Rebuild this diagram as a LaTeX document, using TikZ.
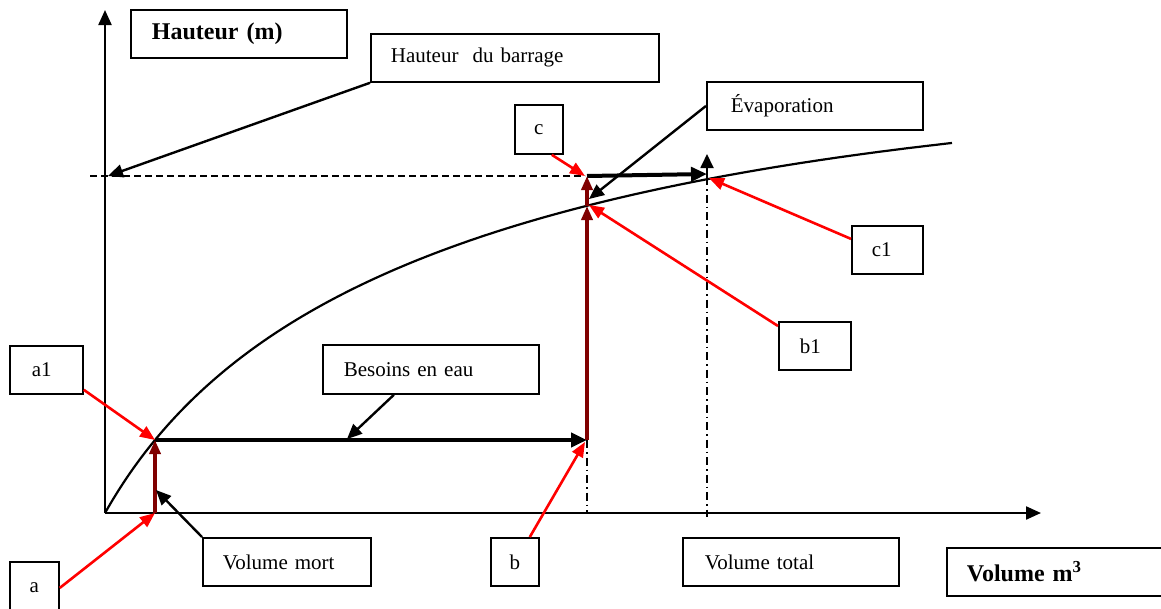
\documentclass[tikz,border=0pt]{standalone}
\usepackage{fontspec}
\setmainfont{Liberation Serif}
\usetikzlibrary{arrows.meta}
\definecolor{dred}{HTML}{800000}
\tikzset{
  lbl/.style={draw=black, line width=1.8pt, rectangle, anchor=north west, inner ysep=0pt, align=left, font=\fontsize{21}{25}\selectfont},
  blbl/.style={lbl, font=\fontsize{24}{28}\selectfont\bfseries},
  axisline/.style={line width=2.2pt, -{Triangle[length=15pt,width=13pt]}},
  blk/.style={line width=2.4pt, black, -{Triangle[length=15pt,width=13pt]}},
  redarr/.style={line width=2.6pt, red, -{Triangle[length=15pt,width=12pt]}},
  dredarr/.style={line width=4pt, dred, -{Triangle[length=14pt,width=11pt]}},
  thickarr/.style={line width=4pt, black, -{Triangle[length=16pt,width=14pt]}},
  dashdot/.style={line width=1.6pt, dash pattern=on 8pt off 4pt on 1.5pt off 4pt},
  curve/.style={line width=2.2pt}
}
\begin{document}
\begin{tikzpicture}[x=1pt,y=-1pt]
\useasboundingbox[fill=white] (0,0) rectangle (1161,608);
% key points
\coordinate (O) at (105,513);
\coordinate (Ytop) at (105,10);
\coordinate (Xend) at (1041,513);
\coordinate (Dstart) at (90,176);
\coordinate (Yh) at (108,176);
\coordinate (pA) at (155,513);
\coordinate (pA1) at (155,440);
\coordinate (pB) at (587,440);
\coordinate (pB1) at (587,206);
\coordinate (pC) at (587,176);
\coordinate (pC1) at (707,174);
\coordinate (pTop) at (707,154);
\coordinate (vC1) at (707,177);
\coordinate (vC1b) at (707,517);
\coordinate (vBb) at (587,513);
\coordinate (tMort) at (156,490);
\coordinate (tBes) at (347,439);
\coordinate (tB) at (585,442);
\coordinate (tB1) at (589,205);
\coordinate (tC1) at (709,178);
\coordinate (tEv) at (589,199);
\coordinate (tC) at (585,176);

% axes
\draw[axisline] (O) -- (Ytop);
\draw[axisline] (O) -- (Xend);
% curve
\draw[curve] plot[domain=105:952, samples=150, smooth] (\x, {513 - 227.3*ln(1+(\x-105)/120) + 0.1231*(\x-105)});
% dashed and dash-dot lines
\draw[line width=1.6pt, dash pattern=on 7pt off 4pt] (Dstart) -- (tC);
\draw[dashdot] (pB) -- (vBb);
\draw[dashdot] (vC1) -- (vC1b);

% boxes
\node[blbl, text width=174pt, inner xsep=21pt, minimum height=48pt] (hm) at (130,9) {Hauteur (m)};
\node[lbl, text width=248pt, inner xsep=20pt, minimum height=48pt] (hb) at (370,33) {Hauteur~~du barrage};
\node[lbl, text width=48pt, inner xsep=0pt, align=center, minimum height=49pt] (c) at (514,104) {c};
\node[lbl, text width=168pt, inner xsep=24pt, minimum height=48pt] (ev) at (706,81) {Évaporation};
\node[lbl, text width=31pt, inner xsep=20pt, minimum height=48pt] (c1) at (851,225) {c1};
\node[lbl, text width=30pt, inner xsep=21pt, minimum height=48pt] (b1) at (778,321) {b1};
\node[lbl, text width=29pt, inner xsep=22pt, minimum height=48pt] (a1) at (9,345) {a1};
\node[lbl, text width=49pt, inner xsep=0pt, align=center, minimum height=52pt] (a) at (9,561) {a};
\node[lbl, text width=48pt, inner xsep=0pt, align=center, minimum height=48pt] (b) at (490,537) {b};
\node[lbl, text width=128pt, inner xsep=20pt, minimum height=48pt] (vm) at (202,537) {Volume mort};
\node[lbl, text width=174pt, inner xsep=21pt, minimum height=49pt] (be) at (322,344) {Besoins en eau};
\node[lbl, text width=172pt, inner xsep=22pt, minimum height=48pt] (vt) at (682,537) {Volume total};
\node[blbl, text width=184pt, inner xsep=20pt, minimum height=48pt] (vm3) at (946,547) {Volume m\textsuperscript{3}};

% connectors
\draw[blk] (hb.south west) -- (Yh);
\draw[redarr] ([xshift=-12pt]c.south east) -- (tC);
\draw[thickarr] (pA1) -- (pB);
\draw[thickarr] (pC) -- (pC1);
\draw[line width=1.8pt, -{Triangle[length=14pt,width=13pt]}] (vC1) -- (pTop);
\draw[dredarr] (pA) -- (pA1);
\draw[dredarr] (pB) -- (pB1);
\draw[dredarr] (pB1) -- (pC);
\draw[blk] (ev.west) -- (tEv);
\draw[redarr] ([yshift=11pt]c1.west) -- (tC1);
\draw[redarr] ([yshift=-5pt]b1.north west) -- (tB1);
\draw[redarr] ([yshift=5pt]a1.south east) -- (pA1);
\draw[redarr] (a.east) -- (pA);
\draw[blk] (vm.north west) -- (tMort);
\draw[blk] ([xshift=-37pt]be.south) -- (tBes);
\draw[redarr] ([xshift=-10pt]b.north east) -- (tB);
\end{tikzpicture}
\end{document}
